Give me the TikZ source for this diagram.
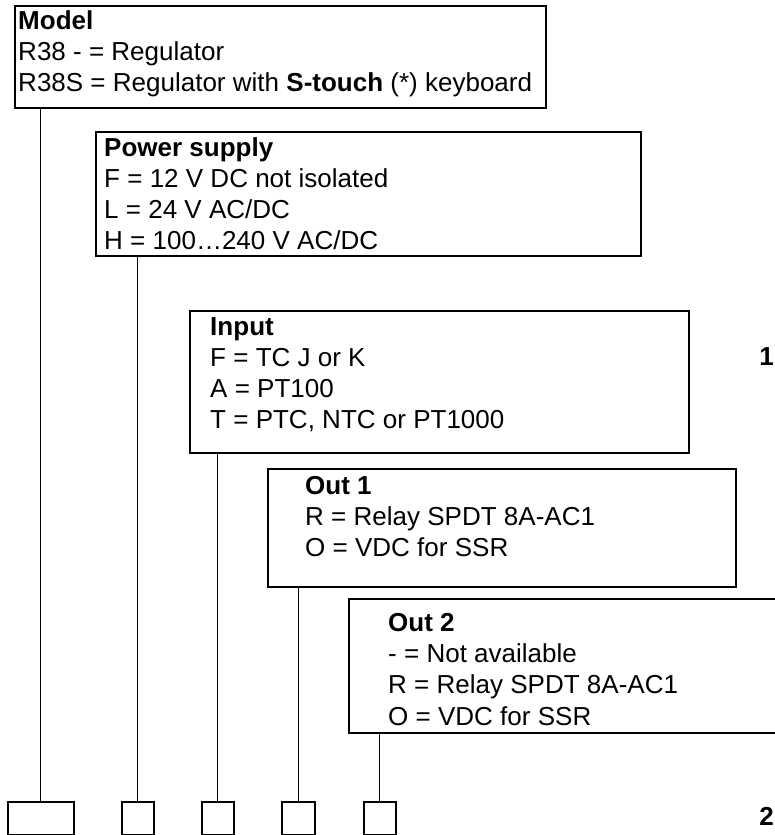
\documentclass[tikz,border=0pt]{standalone}
\usepackage{fontspec}
\setmainfont{Liberation Sans}
\begin{document}
\begin{tikzpicture}[x = 0.03cm, y = -0.03cm,
		optbox/.style = {draw, line width = 1.3pt, anchor = north west, inner sep = 0pt},
		opttext/.style = {anchor = north west, align = left, inner sep = 0pt, font = \fontsize{22.2}{26.5}\selectfont},
		codebox/.style = {draw, line width = 1.3pt, anchor = north west, inner sep = 0pt, minimum height = 0.99cm},
		conn/.style = {line width = 1.1pt}]
		\useasboundingbox (0,0) rectangle (774,835);
		\node [optbox, minimum width = 15.93cm, minimum height = 3.06cm] (model) at (14,5) {};
		\node [opttext] (modeltxt) at (18,10.5) {\textbf{Model}\\R38 - = Regulator\\R38S = Regulator with \textbf{S-touch} (*) keyboard};
		\node [optbox, minimum width = 16.35cm, minimum height = 3.72cm] (power) at (95,131) {};
		\node [opttext] (powertxt) at (104,137.5) {\textbf{Power supply}\\F = 12 V DC not isolated\\L = 24 V AC/DC\\H = 100\ldots240 V AC/DC};
		\node [optbox, minimum width = 14.97cm, minimum height = 4.26cm] (input) at (189,310) {};
		\node [opttext] (inputtxt) at (210,317.5) {\textbf{Input}\\F = TC J or K\\A = PT100\\T = PTC, NTC or PT1000};
		\node [optbox, minimum width = 14.04cm, minimum height = 3.54cm] (outa) at (267,468) {};
		\node [opttext] (outatxt) at (305,476.5) {\textbf{Out 1}\\R = Relay SPDT 8A-AC1\\O = VDC for SSR};
		\node [optbox, minimum width = 13.26cm, minimum height = 4.02cm] (outb) at (348,598) {};
		\node [opttext] (outbtxt) at (388,613.5) {\textbf{Out 2}\\- = Not available\\R = Relay SPDT 8A-AC1\\O = VDC for SSR};
		\node [codebox, minimum width = 1.98cm] (c1) at (7,801) {};
		\node [codebox, minimum width = 0.96cm] (c2) at (121,801) {};
		\node [codebox, minimum width = 0.96cm] (c3) at (201,801) {};
		\node [codebox, minimum width = 0.99cm] (c4) at (281,801) {};
		\node [codebox, minimum width = 0.96cm] (c5) at (363,801) {};
		\draw [conn] (c1.north) -- (c1.north |- model.south);
		\draw [conn] (c2.north) -- (c2.north |- power.south);
		\draw [conn] (c3.north) -- (c3.north |- input.south);
		\draw [conn] (c4.north) -- (c4.north |- outa.south);
		\draw [conn] (c5.north) -- (c5.north |- outb.south);
		\node [anchor = east, inner sep = 0pt, font = \fontsize{22.2}{26.5}\selectfont\bfseries] (pgone) at (774,357) {1};
		\node [anchor = east, inner sep = 0pt, font = \fontsize{22.2}{26.5}\selectfont\bfseries] (pgtwo) at (774,816) {2};
	\end{tikzpicture}
\end{document}
